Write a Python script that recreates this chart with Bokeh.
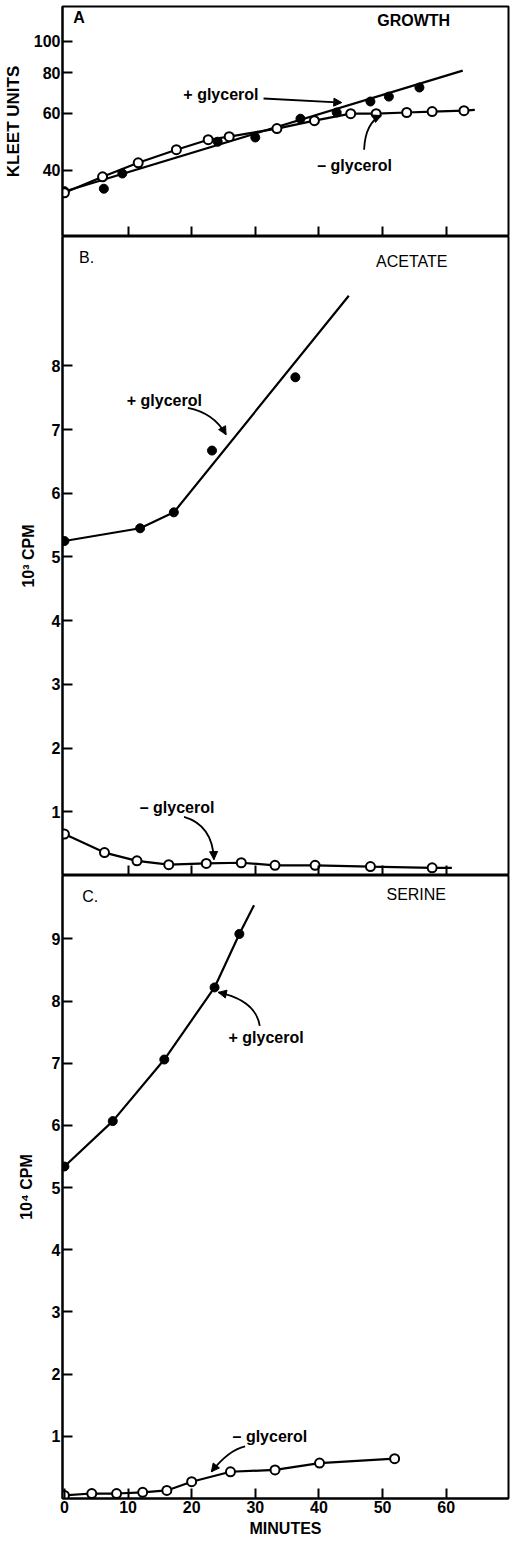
from bokeh.plotting import figure
from bokeh.layouts import column
from bokeh.models import Range1d, FixedTicker, NumeralTickFormatter, Arrow, NormalHead
from bokeh.core.properties import value
from bokeh.embed import file_html
from bokeh.resources import INLINE

FONT = "Liberation Sans"

# ---------------- data ----------------
x_ticks_top = [10, 20, 30, 40, 50, 60]
x_ticks_bottom = [0, 10, 20, 30, 40, 50, 60]

# Panel A: growth (Klett units, log scale)
a_plus_x = [0, 6.2, 9.1, 24.1, 30.0, 37.1, 42.8, 48.1, 51.0, 55.8]
a_plus_y = [34.5, 35.1, 39.1, 49.0, 50.5, 57.7, 60.3, 65.2, 67.5, 72.0]
a_plus_fit_x = [0, 62.6]
a_plus_fit_y = [34.4, 81.2]
a_minus_x = [0, 6.0, 11.6, 17.6, 22.6, 25.9, 33.4, 39.3, 45.0, 49.0, 53.8, 57.8, 62.8]
a_minus_y = [34.1, 38.2, 42.2, 46.3, 49.7, 50.8, 53.8, 56.9, 59.8, 59.8, 60.3, 60.7, 61.1]
a_minus_tail_x = [62.8, 64.5]
a_minus_tail_y = [61.1, 61.4]
a_y_ticks = [40, 60, 80, 100]

# Panel B: acetate (10^3 CPM)
b_plus_x = [0, 11.9, 17.2, 23.2, 36.3]
b_plus_y = [5.25, 5.45, 5.70, 6.67, 7.82]
b_plus_line_x = [0, 11.9, 17.2, 44.7]
b_plus_line_y = [5.25, 5.45, 5.70, 9.10]
b_minus_x = [0, 6.3, 11.4, 16.4, 22.3, 27.8, 33.1, 39.4, 48.1, 57.8]
b_minus_y = [0.65, 0.36, 0.23, 0.17, 0.19, 0.20, 0.16, 0.16, 0.14, 0.12]
b_minus_tail_x = [57.8, 60.9]
b_minus_tail_y = [0.12, 0.12]
b_y_ticks = [1, 2, 3, 4, 5, 6, 7, 8]

# Panel C: serine (10^4 CPM)
c_plus_x = [0, 7.6, 15.7, 23.6, 27.5]
c_plus_y = [5.34, 6.07, 7.06, 8.22, 9.08]
c_plus_tail_x = [27.5, 29.8]
c_plus_tail_y = [9.08, 9.54]
c_minus_x = [0, 4.3, 8.2, 12.3, 16.1, 20.0, 26.1, 33.1, 40.1, 51.9]
c_minus_y = [0.05, 0.08, 0.08, 0.10, 0.13, 0.27, 0.43, 0.46, 0.57, 0.64]
c_y_ticks = [1, 2, 3, 4, 5, 6, 7, 8, 9]

# annotation positions (data units)
a_labels = {"A": (1.4, 118.0), "GROWTH": (54.9, 116.0),
            "+ glycerol": (24.6, 68.5), "– glycerol": (45.6, 41.4)}
b_labels = {"B.": (2.3, 9.70), "ACETATE": (54.6, 9.64),
            "+ glycerol": (15.7, 7.46), "– glycerol": (17.7, 1.07)}
c_labels = {"C.": (2.8, 9.68), "SERINE": (55.3, 9.71),
            "+ glycerol": (31.7, 7.41), "– glycerol": (32.3, 0.99)}

# curved arrows: (x0, y0, cx, cy, x1, y1)
a_curves = [(47.1, 46.3, 47.3, 56.2, 49.8, 59.0)]
a_straight = [(31.3, 66.6, 43.6, 64.7)]
b_curves = [(19.4, 7.34, 23.5, 7.26, 25.4, 6.92), (18.8, 0.92, 23.3, 0.79, 23.5, 0.25)]
c_curves = [(30.7, 7.60, 30.1, 8.01, 24.2, 8.14), (28.4, 0.84, 25.8, 0.78, 23.1, 0.43)]

X_RANGE = Range1d(-0.3, 69.8)


def make_fig(height, y_range, ticks, y_label, label_standoff, border_top, border_bottom,
             show_x_labels, log=False):
    kw = dict(width=512, height=height, x_range=X_RANGE, y_range=y_range,
              output_backend="svg", toolbar_location=None,
              min_border_left=57, min_border_right=4,
              min_border_top=border_top, min_border_bottom=border_bottom)
    if log:
        kw["y_axis_type"] = "log"
    p = figure(**kw)
    p.grid.visible = False
    p.outline_line_color = "black"
    p.outline_line_width = 2
    p.background_fill_color = "white"
    p.border_fill_color = "white"

    ya = p.yaxis[0]
    ya.ticker = FixedTicker(ticks=ticks)
    if log:
        ya.formatter = NumeralTickFormatter(format="0")
    ya.major_tick_in = 10
    ya.major_tick_out = 0
    ya.minor_tick_line_color = None
    ya.axis_line_width = 2
    ya.major_tick_line_width = 2
    ya.major_label_standoff = 2
    ya.major_label_text_font = FONT
    ya.major_label_text_font_style = "bold"
    ya.major_label_text_font_size = "16px"
    ya.major_label_text_color = "black"
    ya.axis_label = y_label
    ya.axis_label_text_font = FONT
    ya.axis_label_text_font_style = "bold"
    ya.axis_label_text_font_size = "17px" if log else "16px"
    ya.axis_label_text_color = "black"
    ya.axis_label_standoff = label_standoff

    xa = p.xaxis[0]
    xa.ticker = FixedTicker(ticks=x_ticks_bottom if show_x_labels else x_ticks_top)
    xa.major_tick_in = 10
    xa.major_tick_out = 0
    xa.minor_tick_line_color = None
    xa.axis_line_width = 2
    xa.major_tick_line_width = 2
    if show_x_labels:
        xa.major_label_standoff = 2
        xa.major_label_text_font = FONT
        xa.major_label_text_font_style = "bold"
        xa.major_label_text_font_size = "16px"
        xa.major_label_text_color = "black"
        xa.axis_label = "MINUTES"
        xa.axis_label_text_font = FONT
        xa.axis_label_text_font_style = "bold"
        xa.axis_label_text_font_size = "16px"
        xa.axis_label_text_color = "black"
        xa.axis_label_standoff = 4
    else:
        xa.major_label_text_color = None
        xa.major_label_standoff = 0
    return p


def add_series(p, lx, ly, mx, my, filled):
    p.line(lx, ly, line_color="black", line_width=2.2)
    if filled:
        p.scatter(mx, my, size=9, marker="circle", fill_color="black", line_color="black")
    else:
        p.scatter(mx, my, size=9, marker="circle", fill_color="white",
                  line_color="black", line_width=2)


def add_labels(p, labels, left_keys, normal_keys):
    for txt, (x, y) in labels.items():
        p.text(x=[x], y=[y], text=[txt], text_font=value(FONT),
               text_font_style="normal" if txt in normal_keys else "bold",
               text_font_size="16px", text_color="black",
               text_align="left" if txt in left_keys else "center",
               text_baseline="middle")


def add_curves(p, curves):
    for (x0, y0, cx, cy, x1, y1) in curves:
        p.quadratic(x0=[x0], y0=[y0], cx=[cx], cy=[cy], x1=[x1], y1=[y1],
                    line_color="black", line_width=1.8)
        p.add_layout(Arrow(end=NormalHead(size=8, fill_color="black", line_color="black"),
                           x_start=cx, y_start=cy, x_end=x1, y_end=y1,
                           line_alpha=0, line_width=0))


# ---------------- Panel A ----------------
pa = make_fig(236, Range1d(25, 128), a_y_ticks, "KLEET UNITS", 8, 6, 0, False, log=True)
pa.line(a_plus_fit_x, a_plus_fit_y, line_color="black", line_width=2.2)
pa.line(a_minus_x, a_minus_y, line_color="black", line_width=2.2)
pa.line(a_minus_tail_x, a_minus_tail_y, line_color="black", line_width=2.2)
pa.scatter(a_plus_x, a_plus_y, size=9, marker="circle", fill_color="black", line_color="black")
pa.scatter(a_minus_x, a_minus_y, size=9, marker="circle", fill_color="white",
           line_color="black", line_width=2)
add_labels(pa, a_labels, {"A"}, set())
for (x0, y0, x1, y1) in a_straight:
    pa.add_layout(Arrow(end=NormalHead(size=8, fill_color="black", line_color="black"),
                        x_start=x0, y_start=y0, x_end=x1, y_end=y1,
                        line_color="black", line_width=1.8))
add_curves(pa, a_curves)

# ---------------- Panel B ----------------
pb = make_fig(639, Range1d(0, 10.03), b_y_ticks, "10³ CPM", 12, 0, 0, False)
add_series(pb, b_plus_line_x, b_plus_line_y, b_plus_x, b_plus_y, True)
pb.line(b_minus_tail_x, b_minus_tail_y, line_color="black", line_width=2.2)
add_series(pb, b_minus_x, b_minus_y, b_minus_x, b_minus_y, False)
add_labels(pb, b_labels, {"B."}, {"B.", "ACETATE"})
add_curves(pb, b_curves)

# ---------------- Panel C ----------------
pc = make_fig(664, Range1d(0, 10.02), c_y_ticks, "10⁴ CPM", 14, 0, 38, True)
pc.line(c_plus_tail_x, c_plus_tail_y, line_color="black", line_width=2.2)
add_series(pc, c_plus_x, c_plus_y, c_plus_x, c_plus_y, True)
add_series(pc, c_minus_x, c_minus_y, c_minus_x, c_minus_y, False)
add_labels(pc, c_labels, {"C."}, {"C.", "SERINE"})
add_curves(pc, c_curves)

layout = column(pa, pb, pc, spacing=0)
open("out.html", "w").write(file_html(layout, INLINE))
